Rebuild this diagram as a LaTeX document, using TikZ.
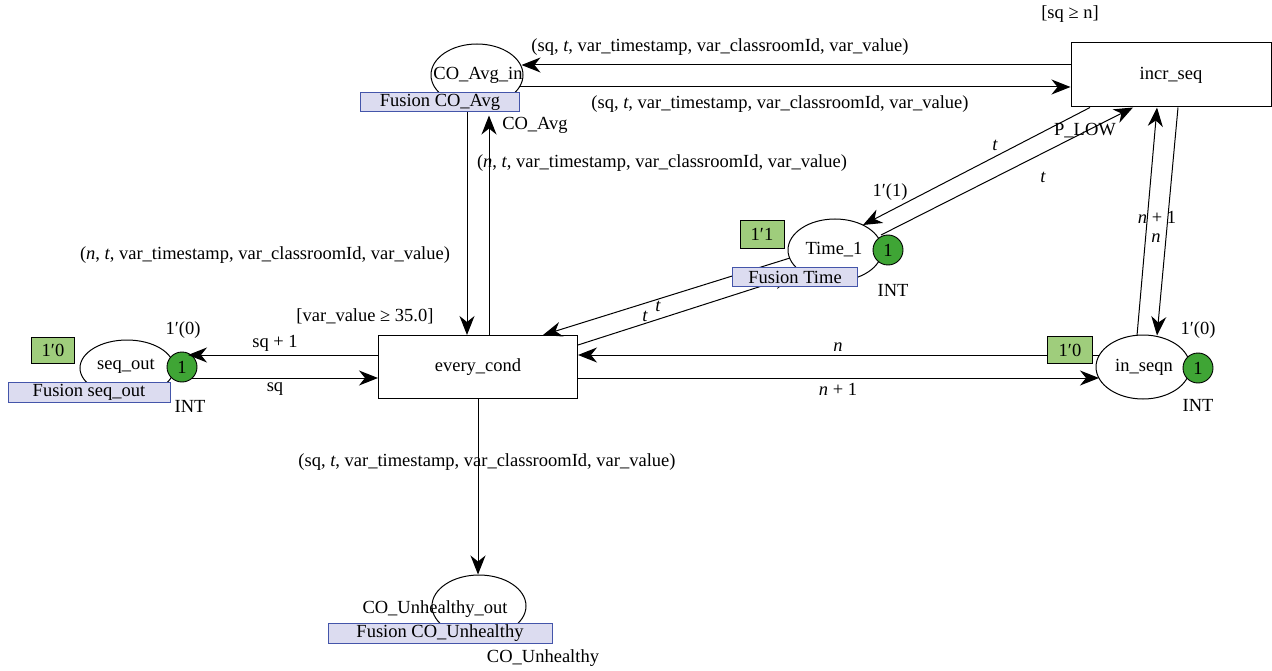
\documentclass[tikz,border=0pt]{standalone}
\usepackage{fontspec}
\setmainfont{Liberation Serif}
\usetikzlibrary{arrows.meta,calc,shapes.geometric}
\definecolor{fusfill}{HTML}{DCDCF0}
\definecolor{fusdraw}{HTML}{4455AA}
\definecolor{tokfill}{HTML}{3FA535}
\definecolor{markfill}{HTML}{9FCD7C}
\tikzset{
  every node/.style={font=\fontsize{18.5}{21}\selectfont, inner sep=0pt},
  place/.style={draw, ellipse, fill=white, line width=1pt},
  trans/.style={draw, rectangle, fill=white, line width=1pt},
  arc/.style={line width=1pt, -{Stealth[length=19pt,width=15pt,inset=6pt]}},
  fusion/.style={draw=fusdraw, fill=fusfill, line width=1pt},
  marking/.style={draw, fill=markfill, line width=0.9pt},
  token/.style={draw, circle, fill=tokfill, minimum size=30pt, line width=0.9pt},
}
\begin{document}
\begin{tikzpicture}[x=1pt,y=-1pt]
\useasboundingbox (0,0) rectangle (1272,671);
% places
\node[place, minimum width=92pt, minimum height=62pt] (coavg) at (477,75) {};
\node[place, minimum width=94pt, minimum height=56pt] (seqout) at (127,368) {};
\node[place, minimum width=94pt, minimum height=64pt] (inseqn) at (1143,367) {};
\node[place, minimum width=94pt, minimum height=62pt] (time) at (835,250) {};
\node[draw, ellipse, line width=1pt, minimum width=94pt, minimum height=62pt] (counh) at (479,606) {};
% transitions
\node[trans, minimum width=200pt, minimum height=64pt] (incr) at (1171,75) {incr\_seq};
\node[trans, minimum width=199pt, minimum height=63pt] (every) at (478,367) {every\_cond};
% place names
\node (coavgname) at (478,75) {CO\_Avg\_in};
\node (seqoutname) at (126,366) {seq\_out};
\node (inseqnname) at (1144,367) {in\_seqn};
\node (timename) at (834,250) {Time\_1};
\node (counhname) at (435,609) {CO\_Unhealthy\_out};
% arcs CO_Avg_in <-> incr_seq
\draw[arc] ([yshift=10pt]incr.west) -- ([yshift=10pt,xshift=-2pt]coavg.east);
\draw[arc] ([yshift=-12pt,xshift=-5pt]coavg.east) -- ([yshift=-12pt]incr.west);
% arcs CO_Avg_in <-> every_cond
\draw[arc] ([xshift=-10pt]coavg.south) -- ([xshift=-10pt]coavg.south |- every.north);
\draw[arc] ([xshift=11pt]every.north) -- ($(every.north |- coavg.south)+(11,9)$);
% arcs every_cond <-> seq_out
\node[token] (tokseq) at (182,367) {1};
\draw[arc] ([yshift=12pt]every.west) -- ($(tokseq.center)+(6,-12)$);
\draw[arc] ($(tokseq.center)+(10,11)$) -- ([yshift=-11pt]every.west);
% arcs every_cond <-> in_seqn
\draw[arc] ($(inseqn.center)+(-44,-12)$) -- ([yshift=12pt]every.east);
\draw[arc] ([yshift=-11pt]every.east) -- ($(inseqn.center)+(-44,11)$);
% arcs in_seqn <-> incr_seq
\draw[arc] ($(inseqn.north)+(-6,1)$) -- ($(incr.south)+(-14,0)$);
\draw[arc] ($(incr.south)+(7,0)$) -- ($(inseqn.north)+(14,1)$);
% arcs Time_1 <-> incr_seq
\draw[arc] ($(incr.south)+(-81,0)$) -- ($(time.center)+(28,-25)$);
\draw[arc] ($(time.center)+(46,-15)$) -- ($(incr.south)+(-38,0)$);
% arcs Time_1 <-> every_cond
\draw[arc] ($(time.center)+(-45,8)$) -- ($(every.north)+(65,0)$);
\draw[arc] ($(every.east)+(0,-22)$) -- ($(time.center)+(-42,26)$);
% arc every_cond -> CO_Unhealthy_out
\draw[arc] (every.south) -- ($(counh.north)+(-1,0)$);
% fusion boxes
\node[fusion, minimum width=159pt, minimum height=19pt] (fusavg) at (440,102) {Fusion CO\_Avg};
\node[fusion, minimum width=162pt, minimum height=20pt] (fusseq) at (89,392) {Fusion seq\_out};
\node[fusion, minimum width=125pt, minimum height=19pt] (fustime) at (795,277) {Fusion Time};
\node[fusion, minimum width=224pt, minimum height=20pt] (fusunh) at (440,633) {Fusion CO\_Unhealthy};
% markings
\node[marking, minimum width=43pt, minimum height=26pt] (m1) at (53,350) {1′0};
\node[marking, minimum width=45pt, minimum height=27pt] (m2) at (1070,350) {1′0};
\node[marking, minimum width=44pt, minimum height=28pt] (m3) at (762,234) {1′1};
% tokens
\node[token] (tokin) at (1198,368) {1};
\node[token] (toktime) at (888,250) {1};
% labels
\node (g1) at (1070,14) {[sq ≥ n]};
\node (g2) at (365,316) {[var\_value ≥ 35.0]};
\node (l1) at (720,47) {(sq, \textit{t}, var\_timestamp, var\_classroomId, var\_value)};
\node (l2) at (780,104) {(sq, \textit{t}, var\_timestamp, var\_classroomId, var\_value)};
\node (l3) at (662,163) {(\textit{n}, \textit{t}, var\_timestamp, var\_classroomId, var\_value)};
\node (l4) at (265,255) {(\textit{n}, \textit{t}, var\_timestamp, var\_classroomId, var\_value)};
\node (l5) at (487,462) {(sq, \textit{t}, var\_timestamp, var\_classroomId, var\_value)};
\node (cavg) at (535,125) {CO\_Avg};
\node (cunh) at (543,658) {CO\_Unhealthy};
\node (sqp1) at (275,343) {sq + 1};
\node (sq) at (275,389) {sq};
\node (nn) at (838,347) {\textit{n}};
\node (np1) at (838,389) {\textit{n} + 1};
\node (np1b) at (1157,217) {\textit{n} + 1};
\node (nb) at (1156,238) {\textit{n}};
\node (t1) at (995,145) {\textit{t}};
\node (t2) at (1043,177) {\textit{t}};
\node (plow) at (1085,131) {P\_LOW};
\node (t3) at (645,316) {\textit{t}};
\node (t4) at (658,306) {\textit{t}};
\node (i1) at (183,330) {1′(0)};
\node (i2) at (190,406) {INT};
\node (i3) at (1198,330) {1′(0)};
\node (i4) at (1198,405) {INT};
\node (i5) at (890,192) {1′(1)};
\node (i6) at (893,290) {INT};
\end{tikzpicture}
\end{document}
